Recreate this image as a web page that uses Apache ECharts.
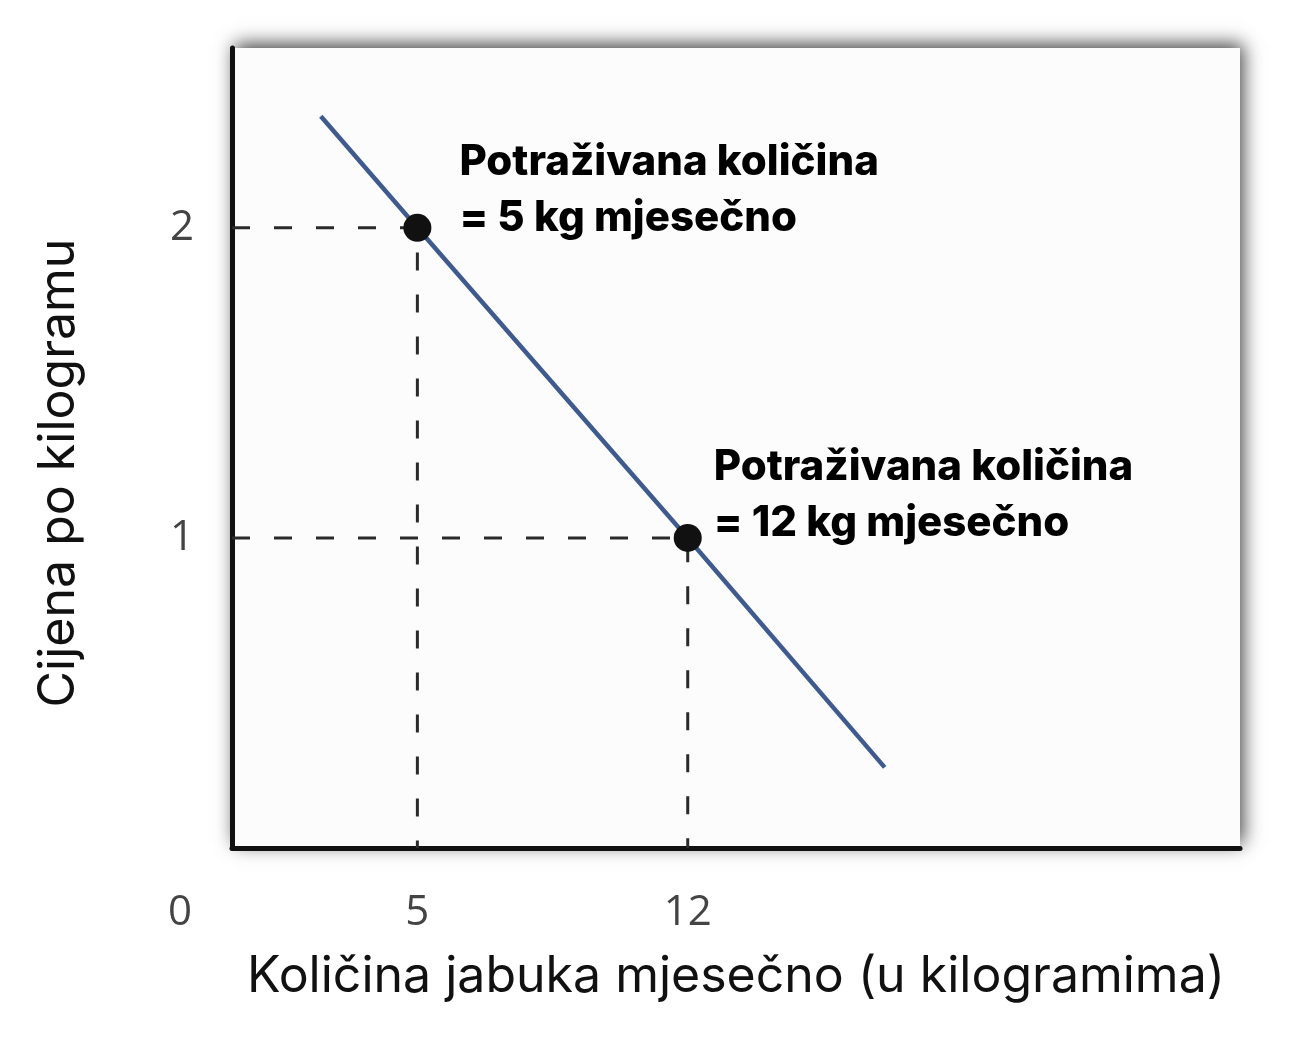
<!DOCTYPE html>
<html>
<head>
<meta charset="utf-8">
<script src="https://cdn.jsdelivr.net/npm/echarts@6/dist/echarts.min.js"></script>
<style>html,body{margin:0;padding:0;background:#fff;}#chart{width:1307px;height:1038px;}</style>
</head>
<body>
<div id="chart"></div>
<script>
// Demand line (quantity kg / month, price per kg)
const demandQty = [2.5, 5, 12, 17.1];
const demandPrice = [2.36, 2, 1, 0.26];
// Highlighted points
const pointQty = [5, 12];
const pointPrice = [2, 1];
const pointNotes = ['Potraživana količina\n= 5 kg mjesečno', 'Potraživana količina\n= 12 kg mjesečno'];
// Tick labels
const xTicks = [5, 12];
const yTicks = [1, 2];
const originLabel = '0';
const xTitle = 'Količina jabuka mjesečno (u kilogramima)';
const yTitle = 'Cijena po kilogramu';
const xRange = [0.2, 26.3];
const yRange = [0, 2.58];

const chart = echarts.init(document.getElementById('chart'), null, {renderer: 'canvas'});

const noteOffsets = [[56, -79], [40, -85]];
const guideSeries = pointQty.map((q, i) => ({
  type: 'line',
  data: [[xRange[0], pointPrice[i]], [q, pointPrice[i]], [q, yRange[0]]],
  symbol: 'none',
  silent: true,
  z: 1,
  lineStyle: {color: '#2a2a2a', width: 3, type: [18, 24]}
}));

chart.setOption({
  animation: false,
  backgroundColor: '#ffffff',
  grid: {
    left: 232, right: 67, top: 48, bottom: 190,
    show: true, backgroundColor: '#fcfcfc', borderWidth: 0,
    shadowBlur: 18, shadowColor: 'rgba(0,0,0,0.75)', shadowOffsetX: 3, shadowOffsetY: -4
  },
  xAxis: {
    type: 'value', min: xRange[0], max: xRange[1],
    name: xTitle, nameLocation: 'middle', nameGap: 104,
    nameTextStyle: {fontFamily: 'Inter', fontSize: 50, color: '#111'},
    axisLine: {show: true, onZero: false, lineStyle: {color: '#111', width: 5}},
    axisTick: {show: false},
    splitLine: {show: false},
    axisLabel: {customValues: xTicks, margin: 44, fontFamily: 'Open Sans', fontSize: 42, color: '#444'}
  },
  yAxis: {
    type: 'value', min: yRange[0], max: yRange[1],
    name: yTitle, nameLocation: 'middle', nameGap: 148, nameRotate: 90,
    nameTextStyle: {fontFamily: 'Inter', fontSize: 50, color: '#111', padding: [0, 50, 0, 0]},
    axisLine: {show: true, onZero: false, lineStyle: {color: '#111', width: 5}},
    axisTick: {show: false},
    splitLine: {show: false},
    axisLabel: {customValues: yTicks, margin: 38, fontFamily: 'Open Sans', fontSize: 42, color: '#444'}
  },
  graphic: [{
    type: 'text', left: 168, top: 892,
    style: {text: originLabel, fontFamily: 'Open Sans', fontSize: 42, fill: '#444'}
  }],
  series: [
    ...guideSeries,
    {
      type: 'line',
      data: demandQty.map((q, i) => [q, demandPrice[i]]),
      symbol: 'none', z: 2,
      lineStyle: {color: '#3f5b8e', width: 4.5}
    },
    {
      type: 'scatter', z: 3,
      symbolSize: 28,
      itemStyle: {color: '#111', opacity: 1},
      data: pointQty.map((q, i) => ({
        value: [q, pointPrice[i]],
        label: {
          show: true, position: noteOffsets[i], formatter: pointNotes[i],
          fontFamily: 'Inter', fontWeight: 800, fontSize: 42, lineHeight: 56,
          color: '#000', opacity: 1, align: 'left'
        }
      }))
    }
  ]
});
</script>
</body>
</html>
